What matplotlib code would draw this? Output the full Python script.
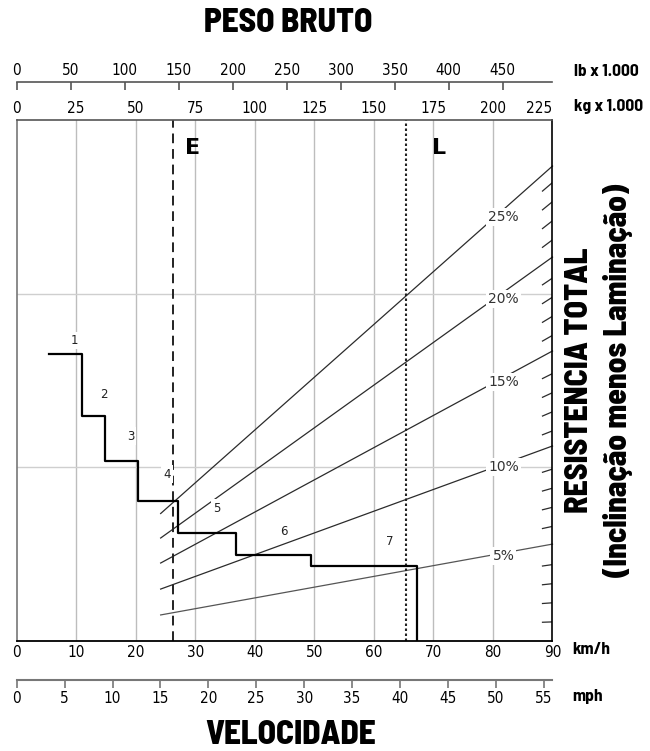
import matplotlib
matplotlib.use("Agg")
import matplotlib.pyplot as plt

# ---------------- data ----------------
# rimpull steps per gear (speed in km/h, resistance units on 0..30 scale)
gear_names = ["1", "2", "3", "4", "5", "6", "7"]
gear_start_kmh = [5.4, 11.0, 14.9, 20.3, 27.1, 36.9, 49.5]
gear_end_kmh = [11.0, 14.9, 20.3, 27.1, 36.9, 49.5, 67.3]
gear_force = [16.5, 12.95, 10.35, 8.05, 6.2, 4.95, 4.3]
gear_label_x = [9.7, 14.6, 19.1, 25.2, 33.6, 44.8, 62.6]
gear_label_y = [17.3, 14.2, 11.8, 9.6, 7.65, 6.3, 5.75]

# grade (total resistance) lines, drawn on the weight axis (kg x 1000)
grade_pct = [5, 10, 15, 20, 25]
grade_w_start = 60.45
grade_w_end = 225
grade_y_start = [1.50, 2.99, 4.49, 5.93, 7.34]
grade_y_end = [5.58, 11.23, 16.70, 22.11, 27.35]
grade_label_w = 204.4
grade_label_y = [4.89, 10.02, 14.91, 19.69, 24.41]

# small 1 % marks on the right edge
tick_pct = [1, 2, 3, 4, 6, 7, 8, 9, 11, 12, 13, 14, 16, 17, 18, 19, 21, 22, 23, 24]
tick_res_per_pct = 1.10
tick_w_start = 220.8

# empty / loaded weights (kg x 1000)
weight_names = ["E", "L"]
weight_values = [65.5, 163.6]
weight_label_x = [29.6, 70.9]   # km/h positions of the letters
weight_label_y = 28.4

# axes
kmh_ticks = list(range(0, 91, 10))
kg_ticks = list(range(0, 226, 25))
lb_ticks = list(range(0, 451, 50))
mph_ticks = list(range(0, 56, 5))
KMH_MAX, KG_MAX, Y_MAX = 90, 225, 30
LB_PER_KG = 1 / 0.45359237
MPH_PER_KMH = 1 / 1.609344

# ---------------- fonts ----------------
COND = dict(family="DejaVu Sans", stretch="condensed")
HEAVY = dict(family=["Barlow Semi Condensed", "Barlow Condensed", "DejaVu Sans"],
             weight="heavy", stretch="semi-condensed")
BOLDC = dict(family=["Barlow Semi Condensed", "Barlow Condensed", "DejaVu Sans"],
             weight="bold", stretch="semi-condensed")

fig = plt.figure(figsize=(6.5, 7.51), dpi=100)
W, H = 650, 751


def rect(x0, y_top, x1, y_bot):
    return [x0 / W, 1 - y_bot / H, (x1 - x0) / W, (y_bot - y_top) / H]


main_rect = rect(16.7, 120, 552.5, 641)

# underlying axis: weight (kg) on top, grid, grade lines
axk = fig.add_axes(main_rect)
axk.set_xlim(0, KG_MAX)
axk.set_ylim(0, Y_MAX)
axk.set_zorder(1)
axk.xaxis.set_ticks_position("top")
axk.xaxis.set_label_position("top")
axk.set_xticks(kg_ticks)
axk.set_xticklabels([str(t) for t in kg_ticks], fontsize=11, **COND)
axk.get_xticklabels()[-1].set_horizontalalignment("right")
axk.tick_params(axis="x", length=0, pad=3)
axk.set_yticks([10, 20])
axk.tick_params(axis="y", length=0, labelleft=False)
for xv in kg_ticks[1:-1]:
    axk.axvline(xv, color="#bdbdbd", lw=1.0, zorder=0)
for yv in [10, 20]:
    axk.axhline(yv, color="#cfcfcf", lw=1.0, zorder=0)
axk.spines["bottom"].set_visible(False)
axk.spines["top"].set_color("#555555")
axk.spines["left"].set_color("#777777")
axk.spines["right"].set_color("black")
for sp in axk.spines.values():
    sp.set_linewidth(1.2)

for g, y0, y1, ly in zip(grade_pct, grade_y_start, grade_y_end, grade_label_y):
    col = "#555555" if g == 5 else "#2b2b2b"
    axk.plot([grade_w_start, grade_w_end], [y0, y1], color=col, lw=0.9, zorder=2,
             clip_on=False)
    axk.text(grade_label_w, ly, f"{g}%", fontsize=10, color="#333333", ha="center",
             va="center", zorder=3,
             bbox=dict(boxstyle="square,pad=0.15", fc="white", ec="none"))

for g in tick_pct:
    y1 = tick_res_per_pct * g
    axk.plot([tick_w_start, KG_MAX], [y1 * tick_w_start / KG_MAX, y1],
             color="#2b2b2b", lw=0.9, zorder=2)

axk.axvline(weight_values[0], color="#222222", lw=1.4, ls=(0, (5, 3)), zorder=2)
axk.axvline(weight_values[1], color="#222222", lw=1.5, ls=(0, (1.2, 1.2)), zorder=2)

# speed axis on top of it (transparent) with the rimpull steps
ax = fig.add_axes(main_rect)
ax.set_zorder(2)
ax.patch.set_visible(False)
ax.set_xlim(0, KMH_MAX)
ax.set_ylim(0, Y_MAX)
ax.set_xticks(kmh_ticks)
ax.set_xticklabels([str(t) for t in kmh_ticks], fontsize=11, **COND)
ax.tick_params(axis="x", length=0, pad=3)
ax.set_yticks([])
for s in ["top", "left", "right"]:
    ax.spines[s].set_visible(False)
ax.spines["bottom"].set_color("black")
ax.spines["bottom"].set_linewidth(1.3)

step_x = gear_start_kmh + [gear_end_kmh[-1]]
step_y = gear_force + [0]
ax.step(step_x, step_y, where="post", color="black", lw=1.6, zorder=3)

for name, lx, ly in zip(gear_names, gear_label_x, gear_label_y):
    ax.text(lx, ly, name, fontsize=8.5, color="#222222", ha="center", va="center",
            zorder=4, bbox=dict(boxstyle="square,pad=0.2", fc="white", ec="none"))

for name, lx in zip(weight_names, weight_label_x):
    ax.text(lx, weight_label_y, name, fontsize=16, fontweight="bold",
            family="DejaVu Sans", ha="center", va="center", zorder=4)

# lb axis (separate scale above)
axlb = fig.add_axes(rect(16.7, 82, 552.5, 90))
axlb.set_xlim(0, KG_MAX * LB_PER_KG)
axlb.patch.set_visible(False)
for s in ["bottom", "left", "right"]:
    axlb.spines[s].set_visible(False)
axlb.spines["top"].set_color("#555555")
axlb.spines["top"].set_linewidth(1.2)
axlb.set_yticks([])
axlb.xaxis.set_ticks_position("top")
axlb.set_xticks(lb_ticks)
axlb.set_xticklabels([str(t) for t in lb_ticks], fontsize=11, **COND)
axlb.tick_params(axis="x", direction="in", length=6, width=1.2, color="#555555", pad=3)

# mph axis (separate scale below)
axm = fig.add_axes(rect(16.7, 672, 552.5, 680))
axm.set_xlim(0, KMH_MAX * MPH_PER_KMH)
axm.patch.set_visible(False)
for s in ["top", "left", "right"]:
    axm.spines[s].set_visible(False)
axm.spines["bottom"].set_color("#777777")
axm.spines["bottom"].set_linewidth(1.5)
axm.set_yticks([])
axm.set_xticks(mph_ticks)
axm.set_xticklabels([str(t) for t in mph_ticks], fontsize=11, **COND)
axm.tick_params(axis="x", direction="out", length=6, width=1.2, color="#777777", pad=2)

# titles and unit labels
fig.text(288 / W, 1 - 23 / H, "PESO BRUTO", fontsize=24, ha="center", va="center", **HEAVY)
fig.text(291 / W, 1 - 735 / H, "VELOCIDADE", fontsize=24, ha="center", va="center", **HEAVY)
fig.text(574 / W, 1 - 71 / H, "lb x 1.000", fontsize=12.5, ha="left", va="center", **BOLDC)
fig.text(574 / W, 1 - 106 / H, "kg x 1.000", fontsize=12.5, ha="left", va="center", **BOLDC)
fig.text(572 / W, 1 - 650 / H, "km/h", fontsize=12.5, ha="left", va="center", **BOLDC)
fig.text(572 / W, 1 - 697 / H, "mph", fontsize=12.5, ha="left", va="center", **BOLDC)
fig.text(580 / W, 1 - 380 / H, "RESISTENCIA TOTAL", fontsize=23, rotation=90,
         ha="center", va="center", **HEAVY)
fig.text(618 / W, 1 - 380 / H, "(Inclinação menos Laminação)", fontsize=22.5, rotation=90,
         ha="center", va="center", **HEAVY)

fig.savefig("out.png", dpi=100)
